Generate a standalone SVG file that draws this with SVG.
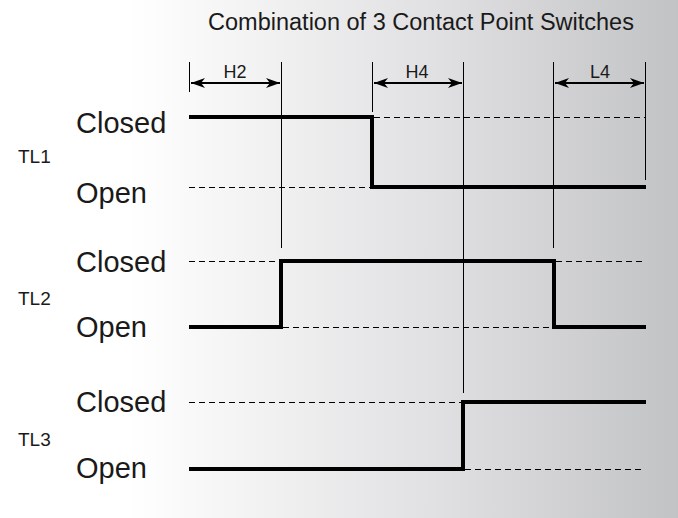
<svg xmlns="http://www.w3.org/2000/svg" width="678" height="518" viewBox="0 0 678 518">
<defs>
<linearGradient id="bg" x1="0" y1="0" x2="678" y2="0" gradientUnits="userSpaceOnUse">
<stop offset="0" stop-color="#ffffff"/>
<stop offset="0.19" stop-color="#ffffff"/>
<stop offset="0.65" stop-color="#e0e0e2"/>
<stop offset="1" stop-color="#c2c3c5"/>
</linearGradient>
<marker id="ah" viewBox="0 0 14 10" refX="14" refY="5" markerWidth="14" markerHeight="10" markerUnits="userSpaceOnUse" orient="auto-start-reverse">
<path d="M0,0 L14,5 L0,10 L4,5 Z" fill="#000"/>
</marker>
<style>
.t{font-family:"Liberation Sans",Arial,sans-serif;fill:#1a1a1a}
.st{font-size:29px}
.tl{font-size:19px}
.dim{font-size:18px}
.g{stroke:#000;stroke-width:1;fill:none}
.d{stroke:#000;stroke-width:1;stroke-dasharray:6,4;fill:none}
.w{stroke:#000;stroke-width:4;fill:none;stroke-linejoin:miter}
.ar{stroke:#000;stroke-width:2;fill:none;marker-start:url(#ah);marker-end:url(#ah)}
</style>
</defs>
<rect x="0" y="0" width="678" height="518" fill="url(#bg)"/>
<text class="t" x="421" y="30" font-size="23.5" text-anchor="middle">Combination of 3 Contact Point Switches</text>
<g id="guides">
<line class="g" x1="189.5" y1="62" x2="189.5" y2="92"/>
<line class="g" x1="281.5" y1="62" x2="281.5" y2="248"/>
<line class="g" x1="372.5" y1="62" x2="372.5" y2="112"/>
<line class="g" x1="463.5" y1="62" x2="463.5" y2="393"/>
<line class="g" x1="553.5" y1="62" x2="553.5" y2="248"/>
<line class="g" x1="645.5" y1="62" x2="645.5" y2="180"/>
</g>
<g id="dimensions">
<line class="ar" x1="191" y1="83" x2="280" y2="83"/>
<text class="t dim" x="235" y="78" text-anchor="middle">H2</text>
<line class="ar" x1="374" y1="83" x2="462" y2="83"/>
<text class="t dim" x="417" y="78" text-anchor="middle">H4</text>
<line class="ar" x1="555" y1="83" x2="644" y2="83"/>
<text class="t dim" x="600" y="78" text-anchor="middle">L4</text>
</g>
<g id="TL1">
<text class="t tl" x="18" y="163">TL1</text>
<text class="t st" x="76" y="133">Closed</text>
<text class="t st" x="76" y="203">Open</text>
<line class="d" x1="374" y1="117.5" x2="645" y2="117.5"/>
<line class="d" x1="189" y1="187.5" x2="372" y2="187.5"/>
<polyline class="w" points="189,117 372,117 372,187 646,187"/>
</g>
<g id="TL2">
<text class="t tl" x="18" y="305">TL2</text>
<text class="t st" x="76" y="272">Closed</text>
<text class="t st" x="76" y="337">Open</text>
<line class="d" x1="189" y1="261.5" x2="281" y2="261.5"/>
<line class="d" x1="556" y1="261.5" x2="645" y2="261.5"/>
<line class="d" x1="283" y1="327.5" x2="554" y2="327.5"/>
<polyline class="w" points="189,327 281,327 281,261 554,261 554,327 646,327"/>
</g>
<g id="TL3">
<text class="t tl" x="18" y="446">TL3</text>
<text class="t st" x="76" y="412">Closed</text>
<text class="t st" x="76" y="478">Open</text>
<line class="d" x1="189" y1="402.5" x2="463" y2="402.5"/>
<line class="d" x1="465" y1="469.5" x2="645" y2="469.5"/>
<polyline class="w" points="189,469 463,469 463,402 646,402"/>
</g>
</svg>
